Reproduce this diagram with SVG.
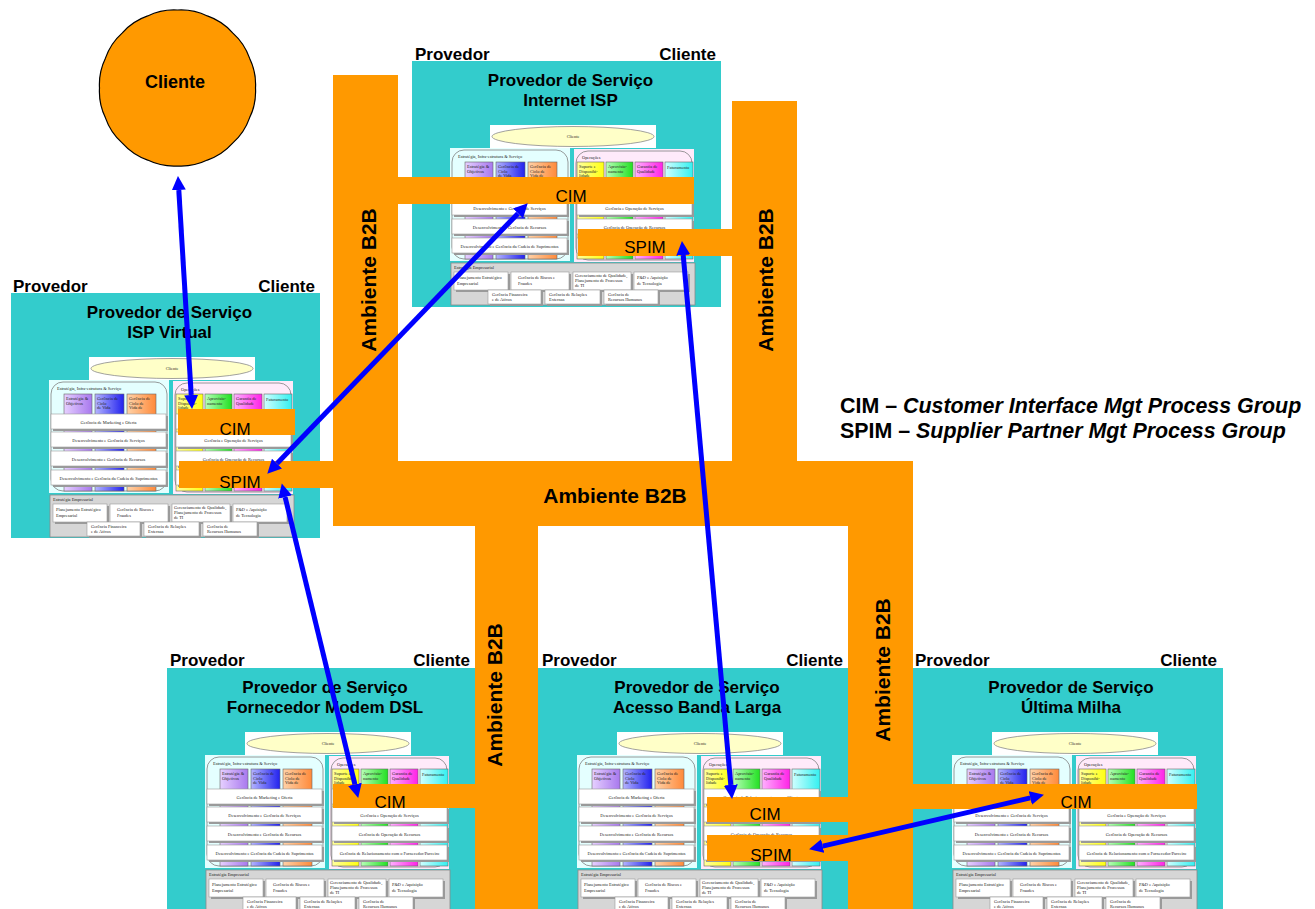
<svg xmlns="http://www.w3.org/2000/svg" xmlns:xlink="http://www.w3.org/1999/xlink" width="1315" height="909" viewBox="0 0 1315 909">
  <style>
    .teal { fill: #33CCCC; }
    .org { fill: #FF9900; }
    .lbl { font-family: "Liberation Sans", Arial, sans-serif; font-weight: bold; font-size: 17px; fill: #000; }
    .end { text-anchor: end; }
    .mid { text-anchor: middle; }
    .b2b { font-family: "Liberation Sans", Arial, sans-serif; font-weight: bold; font-size: 21px; fill: #000; text-anchor: middle; }
    .grp { font-family: "Liberation Sans", Arial, sans-serif; font-size: 17px; fill: #000; text-anchor: middle; }
    .leg { font-family: "Liberation Sans", Arial, sans-serif; font-weight: bold; font-size: 21.4px; fill: #000; }
    .mini { font-family: "Liberation Serif", "Times New Roman", serif; font-size: 4.4px; fill: #222; }
    .minic { font-family: "Liberation Serif", "Times New Roman", serif; font-size: 4.4px; fill: #222; text-anchor: middle; }
    .row { fill: #fff; stroke: #9a9a9a; stroke-width: 0.6; }
    .shd { fill: #9a9a9a; }
    .col { stroke: #666; stroke-width: 0.6; }
    .arrow { stroke: #0000FF; stroke-width: 5; fill: none; marker-start: url(#head); marker-end: url(#head); }
  </style>
  <defs>
    <marker id="head" markerUnits="userSpaceOnUse" markerWidth="14" markerHeight="14" refX="0" refY="7" orient="auto-start-reverse" viewBox="0 0 14 14">
      <path d="M0,0 L14,7 L0,14 z" fill="#0000FF"/>
    </marker>
    <linearGradient id="gPur" x1="0" x2="1" y1="0" y2="0"><stop offset="0" stop-color="#E6D0FF"/><stop offset="1" stop-color="#A878EE"/></linearGradient>
    <linearGradient id="gBlu" x1="0" x2="1" y1="0" y2="0"><stop offset="0" stop-color="#B4B4FF"/><stop offset="1" stop-color="#2222EE"/></linearGradient>
    <linearGradient id="gOra" x1="0" x2="1" y1="0" y2="0"><stop offset="0" stop-color="#FFD2A8"/><stop offset="1" stop-color="#FF8A3A"/></linearGradient>
    <linearGradient id="gYel" x1="0" x2="1" y1="0" y2="0"><stop offset="0" stop-color="#FFFFA0"/><stop offset="1" stop-color="#FFFF10"/></linearGradient>
    <linearGradient id="gGrn" x1="0" x2="1" y1="0" y2="0"><stop offset="0" stop-color="#B8FFB8"/><stop offset="1" stop-color="#22E022"/></linearGradient>
    <linearGradient id="gMag" x1="0" x2="1" y1="0" y2="0"><stop offset="0" stop-color="#FFB0FF"/><stop offset="1" stop-color="#FF22E6"/></linearGradient>
    <linearGradient id="gCya" x1="0" x2="1" y1="0" y2="0"><stop offset="0" stop-color="#D0FFFF"/><stop offset="1" stop-color="#33F0F0"/></linearGradient>

    <!-- eTOM process map drawn inside every provider box (local coordinates) -->
    <g id="etom">
      <!-- customer -->
      <rect x="78" y="64" width="166" height="23" fill="#fff"/>
      <ellipse cx="161" cy="75.5" rx="81" ry="10" fill="#FFFFC8" stroke="#8a8a8a" stroke-width="0.8"/>
      <text x="161" y="77" class="minic">Cliente</text>

      <!-- strategy, infrastructure & product -->
      <rect x="38" y="87" width="120" height="113" fill="#E4FFFF"/>
      <rect x="40" y="89" width="116" height="109" rx="12" fill="none" stroke="#808080" stroke-width="0.8"/>
      <text x="46" y="97" class="mini">Estratégia, Infra-estrutura &amp; Serviço</text>
      <rect x="53" y="101" width="28" height="97" fill="url(#gPur)" class="col"/>
      <rect x="84" y="101" width="29" height="97" fill="url(#gBlu)" class="col"/>
      <rect x="116" y="101" width="29" height="97" fill="url(#gOra)" class="col"/>
      <text x="55" y="107" class="mini">Estratégia &amp;</text>
      <text x="55" y="111.5" class="mini">Objetivos</text>
      <text x="86" y="107" class="mini">Gerência de</text>
      <text x="86" y="111.5" class="mini">Ciclo</text>
      <text x="86" y="116" class="mini">de Vida</text>
      <text x="118" y="107" class="mini">Gerência de</text>
      <text x="118" y="111.5" class="mini">Ciclo de</text>
      <text x="118" y="116" class="mini">Vida de</text>

      <rect x="42" y="123" width="115" height="15" class="shd"/>
      <rect x="40" y="121" width="115" height="15" class="row"/>
      <text x="97.5" y="130.5" class="minic">Gerência de Marketing e Oferta</text>
      <rect x="42" y="141" width="115" height="15" class="shd"/>
      <rect x="40" y="139" width="115" height="15" class="row"/>
      <text x="97.5" y="148.5" class="minic">Desenvolvimento e Gerência de Serviços</text>
      <rect x="42" y="160" width="115" height="15" class="shd"/>
      <rect x="40" y="158" width="115" height="15" class="row"/>
      <text x="97.5" y="167.5" class="minic">Desenvolvimento e Gerência de Recursos</text>
      <rect x="42" y="179" width="115" height="15" class="shd"/>
      <rect x="40" y="177" width="115" height="15" class="row"/>
      <text x="97.5" y="186.5" class="minic">Desenvolvimento e Gerência da Cadeia de Suprimentos</text>

      <!-- operations -->
      <rect x="162" y="88" width="120" height="113" fill="#FFEAFA"/>
      <rect x="164" y="90" width="116" height="109" rx="12" fill="none" stroke="#808080" stroke-width="0.8"/>
      <text x="170" y="98" class="mini">Operações</text>
      <rect x="165" y="101" width="27" height="97" fill="url(#gYel)" class="col"/>
      <rect x="194" y="101" width="27" height="97" fill="url(#gGrn)" class="col"/>
      <rect x="223" y="101" width="28" height="97" fill="url(#gMag)" class="col"/>
      <rect x="253" y="101" width="28" height="97" fill="url(#gCya)" class="col"/>
      <text x="167" y="107" class="mini">Suporte e</text>
      <text x="167" y="111.5" class="mini">Disponibi-</text>
      <text x="167" y="116" class="mini">lidade</text>
      <text x="196" y="107" class="mini">Aprovisio-</text>
      <text x="196" y="111.5" class="mini">namento</text>
      <text x="225" y="107" class="mini">Garantia de</text>
      <text x="225" y="111.5" class="mini">Qualidade</text>
      <text x="255" y="108" class="mini">Faturamento</text>

      <rect x="167" y="123" width="115" height="15" class="shd"/>
      <rect x="165" y="121" width="115" height="15" class="row"/>
      <text x="222.5" y="130.5" class="minic">Gerência de Relacionamento com o Cliente</text>
      <rect x="167" y="141" width="115" height="15" class="shd"/>
      <rect x="165" y="139" width="115" height="15" class="row"/>
      <text x="222.5" y="148.5" class="minic">Gerência e Operação de Serviços</text>
      <rect x="167" y="160" width="115" height="15" class="shd"/>
      <rect x="165" y="158" width="115" height="15" class="row"/>
      <text x="222.5" y="167.5" class="minic">Gerência de Operação de Recursos</text>
      <rect x="167" y="179" width="115" height="15" class="shd"/>
      <rect x="165" y="177" width="115" height="15" class="row"/>
      <text x="222.5" y="186.5" class="minic">Gerência de Relacionamento com o Fornecedor/Parceiro</text>

      <!-- enterprise management -->
      <rect x="39" y="202" width="244" height="42" fill="#D6D6D6" stroke="#8a8a8a" stroke-width="0.8"/>
      <text x="42" y="208" class="mini">Estratégia Empresarial</text>
      <rect x="44" y="213" width="54" height="18" class="shd"/>
      <rect x="42" y="211" width="54" height="18" class="row"/>
      <text x="45" y="218" class="mini">Planejamento Estratégico</text>
      <text x="45" y="224" class="mini">Empresarial</text>
      <rect x="101" y="213" width="58" height="18" class="shd"/>
      <rect x="99" y="211" width="58" height="18" class="row"/>
      <text x="106" y="218" class="mini">Gerência de Riscos e</text>
      <text x="106" y="224" class="mini">Fraudes</text>
      <rect x="163" y="213" width="58" height="18" class="shd"/>
      <rect x="161" y="211" width="58" height="18" class="row"/>
      <text x="163" y="216" class="mini">Gerenciamento de Qualidade,</text>
      <text x="163" y="221" class="mini">Planejamento de Processos</text>
      <text x="163" y="226" class="mini">de TI</text>
      <rect x="224" y="213" width="54" height="18" class="shd"/>
      <rect x="222" y="211" width="54" height="18" class="row"/>
      <text x="225" y="218" class="mini">P&amp;D e Aquisição</text>
      <text x="225" y="224" class="mini">de Tecnologia</text>
      <rect x="78" y="231" width="53" height="14" class="shd"/>
      <rect x="76" y="229" width="53" height="14" class="row"/>
      <text x="80" y="234.5" class="mini">Gerência Financeira</text>
      <text x="80" y="239.5" class="mini">e de Ativos</text>
      <rect x="135" y="231" width="55" height="14" class="shd"/>
      <rect x="133" y="229" width="55" height="14" class="row"/>
      <text x="137" y="234.5" class="mini">Gerência de Relações</text>
      <text x="137" y="239.5" class="mini">Externas</text>
      <rect x="194" y="231" width="54" height="14" class="shd"/>
      <rect x="192" y="229" width="54" height="14" class="row"/>
      <text x="196" y="234.5" class="mini">Gerência de</text>
      <text x="196" y="239.5" class="mini">Recursos Humanos</text>
    </g>
  </defs>

  <rect width="1315" height="909" fill="#fff"/>

  <!-- end customer -->
  <g id="cliente">
    <path d="M255.5,88 A60,60 0 0 1 249.56,117.85 A60,60 0 0 1 232.65,143.15 A60,60 0 0 1 207.35,160.06 A60,60 0 0 1 177.5,166 A60,60 0 0 1 147.65,160.06 A60,60 0 0 1 122.35,143.15 A60,60 0 0 1 105.44,117.85 A60,60 0 0 1 99.5,88 A60,60 0 0 1 105.44,58.15 A60,60 0 0 1 122.35,32.85 A60,60 0 0 1 147.65,15.94 A60,60 0 0 1 177.5,10 A60,60 0 0 1 207.35,15.94 A60,60 0 0 1 232.65,32.85 A60,60 0 0 1 249.56,58.15 A60,60 0 0 1 255.5,88 Z" fill="#FF9900" stroke="#000" stroke-width="1.2"/>
    <text x="175" y="88" class="lbl mid" style="font-size:18px">Cliente</text>
  </g>

  <!-- service provider boxes -->
  <g id="isp-internet">
    <text x="415" y="60" class="lbl">Provedor</text>
    <text x="716" y="60" class="lbl end">Cliente</text>
    <rect x="412" y="61" width="309" height="246" class="teal"/>
    <text x="570.5" y="86" class="lbl mid">Provedor de Serviço</text>
    <text x="570.5" y="106" class="lbl mid">Internet ISP</text>
    <use href="#etom" xlink:href="#etom" transform="translate(412,61)"/>
  </g>

  <g id="isp-virtual">
    <text x="13" y="292" class="lbl">Provedor</text>
    <text x="315" y="292" class="lbl end">Cliente</text>
    <rect x="11" y="293" width="309" height="245" class="teal"/>
    <text x="169.5" y="318" class="lbl mid">Provedor de Serviço</text>
    <text x="169.5" y="338" class="lbl mid">ISP Virtual</text>
    <use href="#etom" xlink:href="#etom" transform="translate(11,293)"/>
  </g>

  <g id="modem-dsl">
    <text x="170" y="666" class="lbl">Provedor</text>
    <text x="470" y="666" class="lbl end">Cliente</text>
    <rect x="167" y="668" width="308" height="241" class="teal"/>
    <text x="325" y="693" class="lbl mid">Provedor de Serviço</text>
    <text x="325" y="713" class="lbl mid">Fornecedor Modem DSL</text>
    <use href="#etom" xlink:href="#etom" transform="translate(167,668)"/>
  </g>

  <g id="banda-larga">
    <text x="542" y="666" class="lbl">Provedor</text>
    <text x="843" y="666" class="lbl end">Cliente</text>
    <rect x="538" y="668" width="310" height="241" class="teal"/>
    <text x="697" y="693" class="lbl mid">Provedor de Serviço</text>
    <text x="697" y="713" class="lbl mid">Acesso Banda Larga</text>
    <use href="#etom" xlink:href="#etom" transform="translate(539,668)"/>
  </g>

  <g id="ultima-milha">
    <text x="915" y="666" class="lbl">Provedor</text>
    <text x="1217" y="666" class="lbl end">Cliente</text>
    <rect x="913" y="668" width="310" height="241" class="teal"/>
    <text x="1071" y="693" class="lbl mid">Provedor de Serviço</text>
    <text x="1071" y="713" class="lbl mid">Última Milha</text>
    <use href="#etom" xlink:href="#etom" transform="translate(914,668)"/>
  </g>

  <!-- B2B environment and the CIM / SPIM interfaces -->
  <g id="ambiente-b2b">
    <rect x="333" y="75" width="65" height="451" class="org"/>
    <rect x="732" y="101" width="65" height="360" class="org"/>
    <rect x="333" y="461" width="580" height="65" class="org"/>
    <rect x="475" y="526" width="63" height="383" class="org"/>
    <rect x="848" y="461" width="65" height="448" class="org"/>

    <rect x="398" y="177" width="296" height="27" class="org"/>
    <rect x="578" y="229" width="154" height="27" class="org"/>
    <rect x="178" y="409" width="117" height="26" class="org"/>
    <rect x="179" y="461" width="154" height="27" class="org"/>
    <rect x="333" y="784" width="142" height="24" class="org"/>
    <rect x="707" y="797" width="141" height="25" class="org"/>
    <rect x="707" y="835" width="141" height="26" class="org"/>
    <rect x="913" y="784" width="284" height="25" class="org"/>

    <text x="615" y="503" class="b2b">Ambiente B2B</text>
    <text class="b2b" transform="translate(376,280) rotate(-90)">Ambiente B2B</text>
    <text class="b2b" transform="translate(773,280) rotate(-90)">Ambiente B2B</text>
    <text class="b2b" transform="translate(502,695) rotate(-90)">Ambiente B2B</text>
    <text class="b2b" transform="translate(890,670) rotate(-90)">Ambiente B2B</text>

    <text x="571" y="202" class="grp">CIM</text>
    <text x="645" y="253" class="grp">SPIM</text>
    <text x="235" y="435" class="grp">CIM</text>
    <text x="240" y="488" class="grp">SPIM</text>
    <text x="390" y="808" class="grp">CIM</text>
    <text x="765" y="820" class="grp">CIM</text>
    <text x="771" y="861" class="grp">SPIM</text>
    <text x="1076" y="808" class="grp">CIM</text>
  </g>

  <!-- interactions between process groups -->
  <g id="connectors">
    <line x1="178.8" y1="190" x2="191.2" y2="395" class="arrow"/>
    <line x1="277" y1="463.6" x2="518" y2="213.4" class="arrow"/>
    <line x1="285.1" y1="497" x2="354.9" y2="784.4" class="arrow"/>
    <line x1="683.2" y1="255" x2="730.8" y2="785" class="arrow"/>
    <line x1="822.7" y1="846.1" x2="1030.3" y2="797.9" class="arrow"/>
  </g>

  <!-- legend -->
  <g id="legenda">
    <text x="840" y="413" class="leg">CIM – <tspan font-style="italic">Customer Interface Mgt Process Group</tspan></text>
    <text x="840" y="438" class="leg">SPIM – <tspan font-style="italic">Supplier Partner Mgt Process Group</tspan></text>
  </g>
</svg>
